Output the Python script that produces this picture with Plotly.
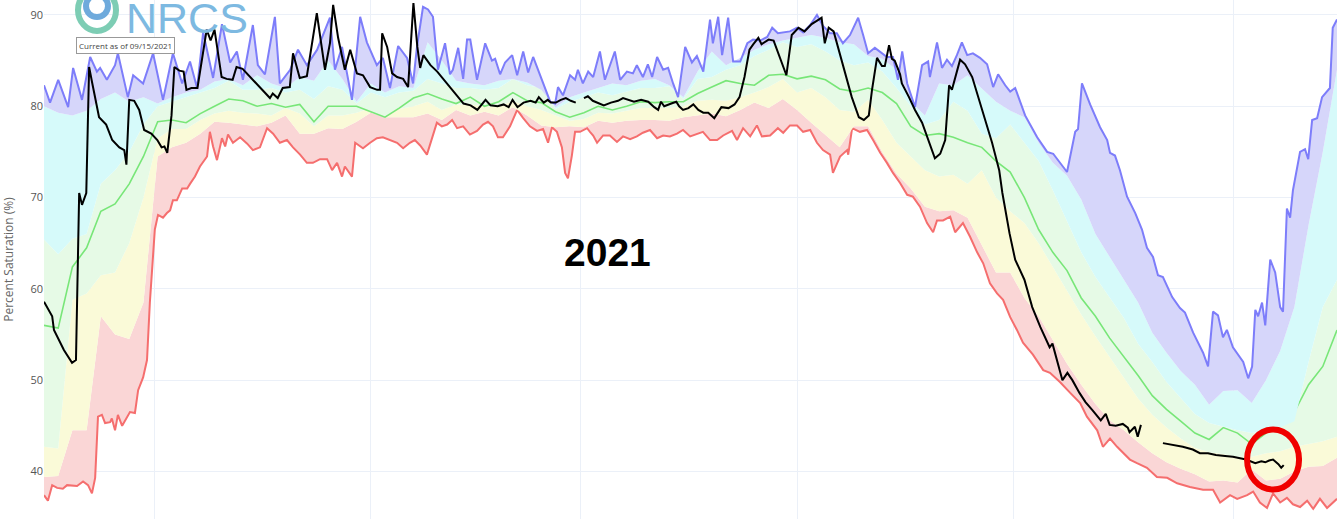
import plotly.graph_objects as go
import pandas as pd

# ---------------- data ----------------
start = pd.Timestamp("2020-10-01")          # water year start
band_step_days = 4                           # percentile bands sampled every 4 days

# daily extremes (max / min) read at their turning points: day offset from Oct 1, value
max_day = [0, 1.7, 4.0, 6.8, 8.2, 10.7, 13.0, 14.9, 15.8, 17.7,
           20.0, 20.8, 23.6, 25.1, 27.9, 30.7, 33.5, 36.3, 38.9, 41.1,
           43.1, 44.8, 47.6, 50.1, 52.4, 54.3, 56.0, 58.8, 60.2, 62.2,
           65.0, 66.4, 69.3, 71.5, 74.0, 76.9, 80.5, 81.9, 83.9, 86.7,
           89.0, 90.9, 93.7, 95.4, 97.4, 99.7, 102.2, 103.9, 105.0, 106.7,
           108.1, 109.5, 110.9, 112.9, 114.3, 115.1, 116.6, 118.0, 119.1, 120.0,
           121.9, 124.2, 126.1, 127.0, 128.4, 129.8, 131.8, 133.2, 134.9, 136.3,
           137.7, 139.1, 140.5, 142.5, 143.9, 144.7, 146.1, 148.1, 149.5, 150.3,
           151.7, 153.2, 154.6, 156.5, 157.9, 160.7, 162.2, 164.1, 165.8, 166.9,
           168.6, 170.0, 171.2, 172.6, 174.3, 175.7, 177.1, 178.5, 180.5, 182.4,
           183.8, 185.6, 187.5, 188.3, 189.8, 190.9, 192.6, 194.0, 196.0, 198.0,
           199.6, 201.6, 203.6, 205.0, 206.6, 210.0, 212.0, 213.7, 215.7, 217.6,
           219.3, 221.3, 223.2, 224.9, 226.9, 229.2, 230.6, 232.0, 233.9, 235.9,
           237.3, 239.0, 240.4, 241.6, 243.0, 245.2, 247.2, 248.9, 249.4, 251.4,
           252.8, 254.2, 255.6, 257.0, 258.4, 259.9, 261.5, 263.5, 265.5, 267.2,
           268.6, 270.6, 272.0, 273.4, 276.2, 279.6, 282.4, 284.1, 288.0, 290.3,
           291.1, 292.2, 294.5, 297.3, 299.3, 300.1, 301.5, 302.9, 304.9, 307.2,
           309.1, 310.5, 312.2, 313.6, 315.0, 317.6, 319.8, 321.2, 323.5, 326.3,
           327.7, 329.1, 330.5, 331.9, 333.0, 334.7, 337.6, 339.0, 340.1, 341.0,
           341.8, 342.9, 343.8, 345.2, 346.6, 348.0, 348.8, 349.9, 350.8, 351.6,
           353.6, 355.0, 355.9, 357.0, 358.4, 359.8, 361.2, 362.0, 362.8, 364.0]
max_val = [82.3, 80.4, 82.9, 79.9, 84.2, 80.7, 85.4, 83.8, 84.2, 82.9,
           84.5, 85.8, 81.0, 83.4, 82.5, 85.8, 80.7, 85.8, 82.5, 84.9,
           82.0, 88.1, 83.1, 89.0, 84.8, 86.0, 82.9, 88.9, 84.5, 83.5,
           89.8, 82.5, 84.0, 86.2, 84.5, 86.2, 89.7, 84.0, 86.5, 80.7,
           89.8, 87.0, 84.5, 85.3, 82.0, 86.6, 85.3, 82.5, 86.5, 90.9,
           90.6, 89.8, 84.0, 86.9, 83.5, 84.0, 86.4, 83.0, 87.3, 87.3,
           82.9, 86.9, 85.0, 85.2, 83.5, 84.8, 85.6, 83.4, 86.0, 83.7,
           85.4, 84.0, 82.5, 80.5, 80.3, 82.1, 81.2, 83.4, 82.9, 84.0,
           82.5, 83.8, 83.2, 86.0, 82.9, 86.0, 82.9, 83.8, 83.6, 84.5,
           83.2, 84.6, 83.2, 85.4, 84.0, 84.2, 82.5, 81.0, 86.5, 84.8,
           85.5, 83.8, 89.5, 86.9, 89.8, 85.6, 89.7, 84.9, 84.9, 86.9,
           87.3, 87.2, 87.6, 88.6, 88.0, 88.2, 88.6, 88.1, 88.9, 90.0,
           88.8, 88.0, 88.0, 86.9, 87.8, 89.7, 87.8, 85.8, 86.4, 85.8,
           85.4, 85.4, 82.9, 86.0, 82.5, 79.9, 84.5, 84.9, 83.2, 87.0,
           84.2, 85.1, 84.4, 85.6, 87.0, 85.6, 85.8, 85.3, 84.6, 82.1,
           83.5, 82.3, 81.6, 82.0, 79.0, 76.6, 75.0, 74.8, 72.8, 77.2,
           77.5, 82.5, 80.2, 77.7, 76.3, 74.9, 74.6, 73.0, 70.1, 68.3,
           66.5, 64.5, 63.5, 61.5, 61.3, 59.1, 57.9, 57.4, 55.2, 53.0,
           51.5, 57.5, 57.1, 54.7, 55.5, 53.6, 52.0, 50.2, 51.5, 57.7,
           57.0, 58.5, 56.0, 63.2, 61.8, 58.0, 57.5, 68.8, 67.8, 70.8,
           75.0, 75.3, 74.2, 78.5, 78.7, 81.0, 81.6, 82.0, 88.6, 89.5]

min_day = [0, 1.1, 2.3, 3.7, 5.3, 6.5, 9.3, 11.0, 12.4, 13.5,
           14.4, 15.2, 16.3, 17.2, 18.6, 19.1, 20.0, 20.8, 22.0, 23.4,
           24.2, 25.6, 26.5, 27.9, 29.0, 29.8, 31.2, 32.1, 33.5, 34.6,
           35.5, 36.3, 37.4, 38.9, 40.3, 41.1, 42.5, 43.9, 45.9, 46.7,
           47.6, 48.7, 50.1, 51.0, 51.8, 53.2, 55.2, 57.2, 58.8, 60.8,
           62.8, 64.5, 66.4, 68.4, 70.1, 72.1, 74.0, 75.7, 77.7, 79.7,
           81.1, 82.5, 83.9, 84.7, 86.7, 87.6, 89.8, 91.8, 93.7, 95.4,
           97.4, 99.4, 101.1, 103.0, 104.4, 105.9, 107.8, 110.6, 112.0, 113.5,
           114.9, 116.3, 118.0, 119.9, 121.9, 123.6, 125.0, 126.4, 127.8, 129.2,
           131.2, 133.2, 134.9, 136.8, 138.8, 140.5, 141.9, 143.0, 144.4, 145.8,
           146.7, 147.5, 148.6, 149.5, 150.9, 152.9, 153.7, 154.6, 155.7, 157.4,
           159.3, 161.3, 163.0, 165.0, 166.9, 168.6, 170.6, 172.6, 174.3, 176.2,
           178.2, 179.9, 181.9, 183.8, 185.5, 187.5, 189.5, 191.2, 192.3, 193.7,
           195.1, 196.8, 198.8, 200.7, 202.1, 204.4, 206.6, 208.1, 210.0, 212.0,
           213.7, 215.7, 217.6, 219.3, 221.3, 222.1, 224.1, 226.1, 226.4, 227.5,
           229.7, 231.7, 233.4, 235.4, 237.3, 239.0, 241.0, 243.0, 244.6, 246.6,
           248.6, 250.3, 251.4, 253.1, 255.1, 256.5, 258.7, 260.7, 262.7, 264.4,
           266.3, 268.3, 270.0, 272.0, 273.9, 275.6, 278.4, 281.3, 283.2, 286.0,
           288.9, 291.7, 293.6, 296.5, 298.1, 300.1, 302.1, 303.8, 305.7, 307.7,
           310.5, 313.3, 316.2, 319.0, 322.6, 326.3, 329.1, 331.1, 333.9, 335.9,
           338.7, 340.4, 342.3, 344.3, 346.0, 348.0, 349.9, 351.6, 353.6, 355.6,
           357.3, 359.2, 361.2, 364.0]
min_val = [37.4, 36.8, 38.5, 38.2, 38.1, 38.5, 38.4, 38.9, 38.5, 37.6,
           39.3, 46.0, 46.2, 45.3, 45.4, 45.8, 44.5, 46.2, 45.0, 46.0,
           46.5, 46.4, 48.9, 50.3, 52.2, 58.5, 66.5, 68.1, 67.8, 68.3,
           68.6, 69.7, 69.7, 71.0, 71.0, 71.5, 72.3, 73.4, 74.5, 77.2,
           75.6, 74.1, 76.5, 75.6, 76.9, 76.0, 76.6, 75.9, 75.2, 75.5,
           77.6, 77.0, 76.0, 76.3, 75.5, 74.7, 73.8, 73.8, 74.2, 74.2,
           73.0, 73.8, 72.3, 73.4, 72.3, 76.0, 75.4, 76.0, 76.5, 76.6,
           76.3, 76.0, 75.4, 76.0, 76.3, 75.7, 74.7, 78.2, 77.8, 78.0,
           78.5, 77.6, 77.8, 76.9, 77.3, 78.0, 78.3, 77.8, 76.6, 76.6,
           77.8, 79.6, 78.7, 77.8, 77.3, 77.5, 76.0, 77.7, 77.2, 75.5,
           72.7, 72.1, 74.6, 77.2, 77.2, 77.6, 77.2, 76.8, 76.0, 76.8,
           76.8, 76.1, 76.7, 76.4, 76.7, 77.1, 77.4, 76.5, 76.8, 76.7,
           77.0, 77.4, 76.7, 77.0, 77.2, 76.3, 76.3, 76.8, 77.0, 77.3,
           76.3, 77.6, 76.7, 77.9, 76.7, 76.8, 77.6, 77.1, 77.9, 77.9,
           77.2, 77.4, 76.0, 75.2, 74.7, 72.7, 74.5, 75.2, 74.7, 77.6,
           77.2, 77.4, 76.3, 74.9, 73.8, 72.7, 71.6, 70.3, 70.1, 69.0,
           67.2, 66.2, 67.5, 67.5, 67.9, 66.2, 67.2, 65.7, 64.0, 62.8,
           60.6, 59.5, 58.8, 56.9, 55.5, 54.1, 52.8, 51.1, 50.8, 49.8,
           48.6, 47.5, 46.0, 44.5, 42.7, 43.6, 42.7, 42.0, 41.3, 40.9,
           40.4, 39.4, 39.3, 38.7, 38.3, 38.0, 38.0, 36.6, 37.4, 37.0,
           37.4, 37.8, 36.6, 36.0, 37.6, 36.6, 37.1, 36.4, 36.1, 36.8,
           35.9, 37.0, 36.0, 37.0]

stat_p90 = [80.0, 79.3, 79.0, 79.5, 80.8, 81.5, 80.5, 81.0, 80.3, 81.0,
            81.5, 81.8, 82.7, 83.0, 82.3, 83.4, 82.5, 82.0, 83.2, 82.8,
            85.0, 83.0, 80.5, 82.5, 81.5, 82.2, 82.0, 87.0, 85.0, 82.8,
            82.5, 82.3, 82.8, 83.0, 82.6, 81.8, 79.9, 81.0, 81.5, 82.0,
            82.5, 82.3, 82.8, 83.0, 82.3, 81.0, 83.8, 86.0, 84.5, 85.3,
            86.2, 86.8, 87.2, 87.5, 87.8, 87.5, 87.0, 86.8, 85.5, 85.2,
            84.0, 80.5, 79.0, 82.5, 82.3, 83.4, 82.0, 80.5, 79.5, 78.8,
            76.0, 73.8, 72.4, 69.8, 66.0, 63.5, 61.0, 58.5, 55.2, 53.0,
            51.0, 49.5, 47.3, 48.8, 48.9, 47.5, 50.0, 53.2, 58.0, 67.0,
            75.0, 84.0]

stat_p70 = [65.4, 63.8, 65.5, 66.0, 71.5, 73.0, 75.0, 78.0, 80.0, 80.5,
            81.0, 81.5, 82.0, 82.8, 81.8, 81.8, 82.0, 81.5, 81.8, 80.8,
            82.2, 81.8, 80.3, 81.5, 81.0, 81.5, 81.7, 83.0, 82.5, 82.0,
            82.0, 81.8, 82.0, 83.0, 82.3, 82.0, 79.7, 80.5, 81.0, 81.5,
            81.2, 81.6, 82.0, 82.0, 82.2, 80.8, 83.0, 83.2, 84.0, 84.5,
            85.5, 86.2, 87.0, 86.5, 86.8, 86.0, 85.0, 84.5, 84.8, 83.8,
            82.0, 80.0, 78.0, 78.5, 80.5, 79.5, 77.0, 76.5, 78.0, 76.0,
            74.0, 70.8, 67.4, 64.0, 61.3, 59.0, 56.8, 54.0, 52.0, 49.8,
            48.0, 46.3, 45.3, 44.9, 44.5, 44.2, 44.5, 44.8, 45.5, 52.0,
            58.0, 61.0]

stat_median = [56.0, 55.7, 62.4, 64.5, 68.5, 69.3, 71.5, 74.5, 78.3, 78.5,
               78.2, 79.2, 80.0, 80.8, 80.6, 80.0, 80.3, 79.9, 80.2, 78.3,
               80.0, 80.0, 80.0, 79.4, 78.8, 79.8, 80.9, 81.4, 80.8, 80.3,
               81.0, 80.0, 80.5, 81.5, 80.6, 80.4, 79.4, 78.8, 79.3, 80.0,
               79.6, 80.0, 80.5, 80.4, 80.5, 80.5, 81.4, 82.1, 82.8, 82.5,
               82.3, 83.4, 83.5, 83.0, 83.3, 82.9, 81.9, 81.6, 82.0, 81.5,
               80.3, 77.8, 76.8, 77.0, 76.6, 76.0, 75.5, 74.0, 72.8, 70.0,
               66.5, 64.0, 62.0, 59.0, 57.0, 54.6, 52.6, 50.5, 48.3, 46.8,
               45.5, 44.2, 43.5, 44.8, 44.2, 43.0, 44.2, 45.0, 46.5, 49.5,
               51.5, 55.5]

stat_p30 = [42.7, 42.5, 58.8, 59.5, 61.5, 61.8, 65.0, 70.0, 76.5, 77.5,
            77.5, 78.5, 79.2, 79.5, 79.3, 79.2, 79.0, 79.8, 79.2, 77.8,
            79.0, 79.0, 79.3, 79.8, 79.8, 79.7, 80.0, 80.5, 79.6, 80.2,
            80.2, 80.0, 80.0, 80.6, 80.0, 79.6, 79.0, 78.4, 78.6, 79.3,
            79.2, 79.5, 79.8, 79.8, 79.8, 80.0, 80.6, 80.7, 80.6, 81.0,
            81.5, 82.1, 83.0, 81.5, 82.0, 81.0, 79.6, 79.4, 80.7, 78.5,
            76.0, 74.5, 73.0, 72.3, 72.5, 71.5, 73.0, 70.0, 68.5, 67.2,
            65.0, 62.4, 59.8, 57.2, 54.8, 52.5, 50.2, 48.0, 46.2, 44.8,
            43.6, 42.6, 42.1, 41.9, 41.6, 41.6, 42.0, 42.2, 42.7, 43.0,
            43.3, 43.8]

stat_p10 = [39.4, 39.5, 44.5, 44.5, 57.0, 55.0, 54.5, 58.5, 74.5, 75.5,
            76.0, 77.0, 78.3, 78.2, 78.0, 77.8, 78.2, 79.0, 77.0, 77.0,
            77.6, 77.5, 78.3, 79.3, 78.8, 78.8, 78.8, 79.2, 78.5, 79.6,
            79.0, 79.4, 79.0, 79.9, 79.0, 77.9, 77.7, 77.8, 77.7, 78.4,
            78.2, 78.4, 78.5, 78.5, 78.4, 78.8, 79.0, 79.2, 78.9, 79.6,
            80.4, 79.8, 80.8, 79.6, 78.2, 76.8, 75.5, 77.8, 77.8, 75.0,
            72.6, 71.0, 69.0, 68.5, 68.6, 67.8, 64.8, 61.8, 61.8, 59.0,
            57.0, 54.4, 51.8, 49.5, 47.4, 45.6, 44.5, 43.2, 42.0, 41.0,
            40.3, 39.7, 38.9, 39.0, 38.8, 40.2, 39.0, 39.2, 40.0, 40.5,
            40.6, 41.5]

# current water year 2021: (day offset from Oct 1, value); None = missing data
cur_day = [0.0, 2.3, 2.8, 5.6, 7.9, 9.0, 9.9, 10.7, 11.9, 12.7, 13.6, 15.5, 17.5, 19.2,
           21.2, 22.6, 23.2, 24.0, 25.4, 26.8, 28.2, 30.2, 31.9, 33.1, 33.9, 34.7, 35.9,
           36.7, 38.1, 39.3, 40.1, 41.5, 43.2, 44.4, 45.8, 46.9, 48.0, 50.0, 51.4, 53.1,
           54.2, 55.9, 57.9, 60.7, 63.6, 64.4, 65.8, 67.2, 69.2, 70.1, 72.0, 74.0, 75.7,
           76.8, 79.1, 80.5, 81.4, 82.8, 84.7, 86.2, 88.1, 89.8, 91.8, 93.8, 94.6, 95.2,
           96.6, 98.0, 99.4, 101.1, 102.5, 104.0, 105.1, 105.9, 106.8, 108.8, 110.7,
           112.4, 114.4, 116.4, 118.1, 120.1, 122.0, 124.3, 125.7, 127.7, 129.4, 130.8,
           131.9, 133.3, 135.0, 137.0, 138.4, 139.3, 140.7, 141.8, 142.7, 144.1, 145.5,
           146.9, 148.3, 149.7, 150.8, 152.0, 153.1, 154.5, 155.9, 157.6, 159.6, 161.6,
           163.0, 164.4, 166.1, 168.1, 170.1, 171.8, 172.9, 173.7, 174.6, 176.6, 178.0,
           178.8, 179.9, 181.4, 182.8, 184.2, 185.6, 187.0, 188.7, 190.7, 192.7, 194.4,
           195.8, 197.2, 198.6, 199.7, 201.1, 202.0, 204.0, 205.4, 206.8, 208.2, 209.0,
           210.5, 212.4, 214.1, 216.1, 218.1, 218.9, 219.8, 220.9, 222.3, 223.7, 225.4,
           227.4, 229.4, 230.8, 232.2, 233.1, 234.5, 235.9, 236.7, 237.9, 238.7, 239.5,
           241.0, 241.5, 243.5, 245.2, 247.2, 249.2, 250.8, 252.3, 253.7, 254.8, 255.6,
           257.9, 259.3, 261.3, 263.3, 265.0, 266.9, 268.9, 269.8, 271.8, 273.4, 276.0,
           278.2, 280.5, 282.5, 283.1, 283.9, 285.3, 286.7, 288.1, 289.5, 291.5, 293.2,
           295.2, 297.5, 298.9, 300.0, 301.7, 303.7, 305.1, 305.6, 307.1, 307.9, 308.8,
           312.0, 315.0, 316.4, 317.8, 320.6, 323.4, 325.4, 327.7, 329.9, 332.5, 334.7,
           338.4, 340.4, 341.0, 342.7, 343.8, 344.9, 346.0, 347.5, 348.3, 349.0]
cur_val = [58.6, 57.0, 55.5, 53.3, 51.9, 52.2, 70.5, 69.2, 70.5, 84.3, 82.5, 78.8, 78.0, 76.3,
           75.5, 75.2, 73.6, 80.7, 80.6, 79.6, 77.4, 77.0, 76.3, 75.5, 75.6, 74.9, 79.0,
           84.3, 83.9, 83.8, 81.8, 82.0, 82.0, 85.1, 88.4, 87.2, 88.4, 83.2, 83.0, 82.9,
           84.3, 84.1, 83.3, 82.1, 80.9, 81.4, 80.9, 82.0, 82.1, 85.8, 83.1, 83.3, 87.3,
           90.2, 84.0, 86.9, 91.1, 87.5, 84.0, 86.2, 83.6, 83.4, 82.1, 81.8, 81.8, 88.0,
           86.5, 83.6, 83.2, 83.0, 82.1, 91.3, 86.5, 84.2, 85.6, 84.5, 83.8,
           83.0, 82.1, 81.2, 80.3, 80.1, 79.6, 80.7, 80.1, 80.0, 80.2, 79.9,
           80.7, 79.9, 80.4, 80.6, 80.4, 81.0, 80.4, 80.7, 80.4, 80.4, 80.7,
           80.9, 80.6, 80.4, None, 80.9, 81.1, 80.6, 80.4, 80.1, 80.4, 80.6,
           80.9, 80.7, 80.5, 80.7, 80.5, 79.9, 79.6, 80.5, 80.0, 80.3, 80.5,
           80.0, 79.6, 79.8, 80.2, 79.6, 79.3, 79.3, 78.7, 79.9, 79.8, 80.2,
           81.0, 83.2, 86.2, 86.8, 87.5, 86.8, 87.3, 87.2, 85.8, 84.3, 83.4,
           87.8, 88.6, 88.2, 89.0, 89.5, 89.7, 86.9, 88.6, 88.2, 86.2, 83.6,
           81.0, 78.8, 78.5, 79.0, 81.8, 85.3, 84.4, 84.4, 86.7, 85.2, 85.0,
           83.5, 82.5, 81.0, 79.6, 78.2, 76.0, 74.3, 74.8, 76.3, 82.3, 81.8,
           85.1, 84.6, 83.2, 80.7, 78.5, 76.0, 73.0, 70.5, 66.1, 63.2, 61.0,
           58.0, 55.8, 54.0, 53.6, 54.0, 52.0, 50.0, 50.8, 50.0, 48.6, 47.6,
           46.7, 45.6, 46.3, 45.1, 45.0, 45.2, 44.8, 44.3, 44.9, 43.8, 45.1,
           None, 43.1, 43.0, 42.9, 42.7, 42.4, 42.0, 42.0, 41.8, 41.7, 41.6,
           41.3, 41.0, 40.9, 41.1, 41.0, 41.2, 41.3, 40.8, 40.4, 40.7]

y_ticks = [40, 50, 60, 70, 80, 90]
year_label = "2021"
as_of_label = "Current as of 09/15/2021"
y_title = "Percent Saturation (%)"
logo_text = "NRCS"

# ---------------- build ----------------
n = len(stat_p90)
for s in (stat_p70, stat_median, stat_p30, stat_p10):
    assert len(s) == n
assert len(cur_day) == len(cur_val)
assert len(max_day) == len(max_val)
assert len(min_day) == len(min_val)


def to_dates(days):
    return [start + pd.Timedelta(days=d) for d in days]


band_dates = [start + pd.Timedelta(days=band_step_days * i) for i in range(n)]
end = band_dates[-1]

W, H = 1341, 519
ML, MR = 44, 4

fig = go.Figure()
fig.add_trace(go.Scatter(x=to_dates(min_day), y=min_val, mode="lines",
                         line=dict(color="rgb(245,110,110)", width=2)))
fig.add_trace(go.Scatter(x=band_dates, y=stat_p10, mode="lines", line=dict(width=0),
                         fill="tonexty", fillcolor="rgb(250,214,214)"))
fig.add_trace(go.Scatter(x=band_dates, y=stat_p30, mode="lines", line=dict(width=0),
                         fill="tonexty", fillcolor="rgb(250,250,216)"))
fig.add_trace(go.Scatter(x=band_dates, y=stat_median, mode="lines",
                         line=dict(color="rgb(120,230,120)", width=1.6),
                         fill="tonexty", fillcolor="rgb(230,250,230)"))
fig.add_trace(go.Scatter(x=band_dates, y=stat_p70, mode="lines", line=dict(width=0),
                         fill="tonexty", fillcolor="rgb(230,250,230)"))
fig.add_trace(go.Scatter(x=band_dates, y=stat_p90, mode="lines", line=dict(width=0),
                         fill="tonexty", fillcolor="rgb(214,250,250)"))
fig.add_trace(go.Scatter(x=to_dates(max_day), y=max_val, mode="lines",
                         line=dict(color="rgb(125,125,250)", width=2),
                         fill="tonexty", fillcolor="rgb(214,214,250)"))
fig.add_trace(go.Scatter(x=to_dates(cur_day), y=cur_val, mode="lines", connectgaps=False,
                         line=dict(color="black", width=2)))

y0, y1 = 34.79, 91.64


def px_to_paper(px, py):
    return (px - ML) / (W - ML - MR), 1 - py / H


# NRCS logo approximation (decoration)
tx, ty = px_to_paper(97, 10)
bx_, by_ = px_to_paper(97, 6)
shapes = [
    dict(type="circle", xref="paper", yref="paper", xsizemode="pixel", ysizemode="pixel",
         xanchor=tx, yanchor=ty, x0=-19, x1=19, y0=-21, y1=21,
         line=dict(color="rgb(125,205,180)", width=6), layer="above"),
    dict(type="circle", xref="paper", yref="paper", xsizemode="pixel", ysizemode="pixel",
         xanchor=bx_, yanchor=by_, x0=-11, x1=11, y0=-11, y1=11,
         line=dict(color="rgb(110,170,220)", width=6), layer="above"),
]
# red highlight circle around the latest values
shapes.append(dict(type="circle", xref="x", yref="y", xsizemode="pixel", ysizemode="pixel",
                   xanchor=start + pd.Timedelta(days=346), yanchor=41.3,
                   x0=-26, x1=26, y0=-30, y1=30,
                   line=dict(color="rgb(240,0,0)", width=6), layer="above"))

ax, ay = px_to_paper(187, 44)
cx, cy = px_to_paper(125, 45)
annotations = [
    dict(text=logo_text, xref="paper", yref="paper", x=ax, y=ay, xanchor="center",
         yanchor="bottom", showarrow=False,
         font=dict(family="Liberation Sans", size=43, color="rgb(125,185,225)")),
    dict(text=as_of_label, xref="paper", yref="paper", x=cx, y=cy, xanchor="center",
         yanchor="middle", showarrow=False, bordercolor="#999", borderwidth=1,
         borderpad=2, bgcolor="white",
         font=dict(family="Open Sans", size=8, color="#444")),
    dict(text="<b>%s</b>" % year_label, xref="x", yref="y",
         x=start + pd.Timedelta(days=158.5), y=64.0, showarrow=False,
         font=dict(family="Liberation Sans, Arial", size=39, color="black")),
]

fig.update_layout(
    width=W, height=H,
    margin=dict(l=ML, r=MR, t=0, b=0),
    paper_bgcolor="white", plot_bgcolor="white",
    showlegend=False,
    font=dict(family="Open Sans", color="#555"),
    shapes=shapes, annotations=annotations,
)
fig.update_xaxes(type="date", range=[start, end], showticklabels=False,
                 tick0="2020-11-01", dtick="M2", showgrid=True, gridcolor="#EBF0F8",
                 zeroline=False, showline=False, automargin=False)
fig.update_yaxes(range=[y0, y1], tickvals=y_ticks, showgrid=True, gridcolor="#EBF0F8",
                 zeroline=False, showline=False, automargin=False,
                 tickfont=dict(size=11, color="#555"),
                 title=dict(text=y_title, font=dict(size=12, color="#666"), standoff=15))

fig.write_html("out.html", config={"displayModeBar": False},
               post_script="document.body.style.margin='0';document.body.style.overflow='hidden';")
